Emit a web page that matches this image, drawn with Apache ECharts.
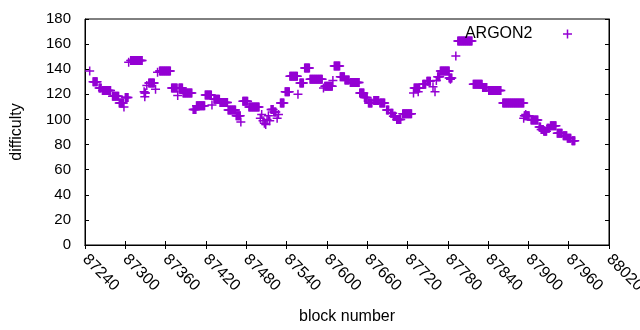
<!DOCTYPE html>
<html>
<head>
<meta charset="utf-8">
<script src="https://cdn.jsdelivr.net/npm/echarts@6/dist/echarts.min.js"></script>
<style>
  html, body { margin: 0; padding: 0; background: #fff; }
  #chart { width: 640px; height: 330px; }
</style>
</head>
<body>
<div id="chart"></div>
<script>
// difficulty held constant over a range of blocks (first, last, value)
const runFirst = [87252, 87261, 87266, 87281, 87291, 87300, 87308, 87329, 87335, 87351,
  87369, 87380, 87386, 87401, 87406, 87419, 87432, 87441, 87453, 87465,
  87475, 87484, 87517, 87521, 87531, 87538, 87545, 87560, 87567, 87575,
  87597, 87611, 87620, 87627, 87635, 87649, 87656, 87662, 87670, 87679,
  87689, 87695, 87699, 87704, 87713, 87730, 87743, 87749, 87765, 87769,
  87782, 87795, 87818, 87832, 87841, 87862, 87894, 87904, 87916, 87919,
  87923, 87928, 87933, 87943, 87952, 87958, 87965];
const runLast = [87258, 87264, 87278, 87290, 87297, 87304, 87325, 87330, 87343, 87367,
  87377, 87385, 87399, 87405, 87418, 87428, 87440, 87452, 87464, 87471,
  87482, 87499, 87520, 87524, 87536, 87544, 87556, 87565, 87574, 87593,
  87608, 87619, 87626, 87633, 87648, 87655, 87660, 87667, 87677, 87686,
  87692, 87698, 87702, 87710, 87726, 87738, 87747, 87754, 87768, 87782,
  87786, 87816, 87831, 87838, 87859, 87893, 87901, 87914, 87918, 87922,
  87927, 87931, 87941, 87950, 87957, 87963, 87969];
const runDiff = [130, 125, 123, 118.5, 113, 117.5, 147, 121, 129, 138.5,
  125, 125, 121, 108, 111, 119.5, 116, 113.5, 107.5, 103,
  114.5, 110, 108, 106, 113, 122, 134.5, 129, 141, 132,
  126.5, 142.5, 134, 131.5, 129.5, 121, 117.5, 113, 115, 113,
  107.5, 105, 102.5, 100, 104.5, 125, 128, 130.5, 134, 138.5,
  133, 162.5, 128, 125.5, 123, 113, 103, 99.5, 94, 92,
  90.5, 93, 95, 89, 87, 85, 83];

// isolated blocks
const loneBlock = [87247, 87298, 87305, 87328, 87329, 87332, 87345, 87348, 87378, 87429,
  87472, 87501, 87503, 87505, 87507, 87509, 87511, 87513, 87515, 87526,
  87528, 87557, 87595, 87609, 87729, 87736, 87758, 87761, 87763, 87784,
  87792, 87893, 87896];
const loneDiff = [138.5, 110, 145.5, 122, 118, 127, 124, 137.5, 119, 111.5,
  98, 101, 104, 99, 97, 96, 100, 103, 99, 101,
  104, 120, 125, 131, 121, 122, 126, 122, 131, 132,
  150.5, 101, 104];

const xTicks = [87240, 88020, 60];
const yTicks = [0, 180, 20];

const points = [];
runFirst.forEach((b0, i) => {
  for (let b = b0; b <= runLast[i]; b++) points.push([b, runDiff[i]]);
});
loneBlock.forEach((b, i) => points.push([b, loneDiff[i]]));

const plus = 'path://M3.75,0H5.25V3.75H9V5.25H5.25V9H3.75V5.25H0V3.75H3.75Z';
const font = 'Liberation Sans';

const myChart = echarts.init(document.getElementById('chart'));
const option = {
  animation: false,
  textStyle: { fontFamily: font },
  grid: {
    left: 85, right: 31, top: 19, bottom: 85,
    outerBoundsMode: 'none',
    show: true, borderColor: '#000', borderWidth: 1,
  },
  legend: {
    top: 21,
    right: 63,
    align: 'right',
    itemWidth: 60,
    itemHeight: 9,
    icon: plus,
    textStyle: { fontFamily: font, fontSize: 16, color: '#000' },
    data: ['ARGON2'],
  },
  xAxis: [
    {
      type: 'value',
      min: xTicks[0],
      max: xTicks[1],
      interval: xTicks[2],
      name: 'block number',
      nameLocation: 'middle',
      nameGap: 64,
      nameTextStyle: { fontFamily: font, fontSize: 16, color: '#000' },
      axisLine: { lineStyle: { color: '#000' } },
      axisTick: { inside: true, length: 4, lineStyle: { color: '#000' } },
      axisLabel: { rotate: -45, margin: 12, color: '#000', fontSize: 16, fontFamily: font, formatter: v => String(v) },
      splitLine: { show: false },
    },
    {
      type: 'value',
      position: 'top',
      min: xTicks[0],
      max: xTicks[1],
      interval: xTicks[2],
      axisLine: { lineStyle: { color: '#000' } },
      axisTick: { inside: true, length: 4, lineStyle: { color: '#000' } },
      axisLabel: { show: false },
      splitLine: { show: false },
    },
  ],
  yAxis: [
    {
      type: 'value',
      min: yTicks[0],
      max: yTicks[1],
      interval: yTicks[2],
      name: 'difficulty',
      nameLocation: 'middle',
      nameGap: 60,
      nameTextStyle: { fontFamily: font, fontSize: 16, color: '#000' },
      axisLine: { show: true, lineStyle: { color: '#000' } },
      axisTick: { show: true, inside: true, length: 4, lineStyle: { color: '#000' } },
      axisLabel: { margin: 14, color: '#000', fontSize: 15, fontFamily: font },
      splitLine: { show: false },
    },
    {
      type: 'value',
      position: 'right',
      min: yTicks[0],
      max: yTicks[1],
      interval: yTicks[2],
      axisLine: { show: true, lineStyle: { color: '#000' } },
      axisTick: { show: true, inside: true, length: 4, lineStyle: { color: '#000' } },
      axisLabel: { show: false },
      splitLine: { show: false },
    },
  ],
  series: [
    {
      name: 'ARGON2',
      type: 'scatter',
      symbol: plus,
      symbolSize: 9,
      itemStyle: { color: '#9400d3', opacity: 1 },
      data: points,
    },
  ],
};

if (option && typeof option === 'object') {
  myChart.setOption(option, true);
}
</script>
</body>
</html>
